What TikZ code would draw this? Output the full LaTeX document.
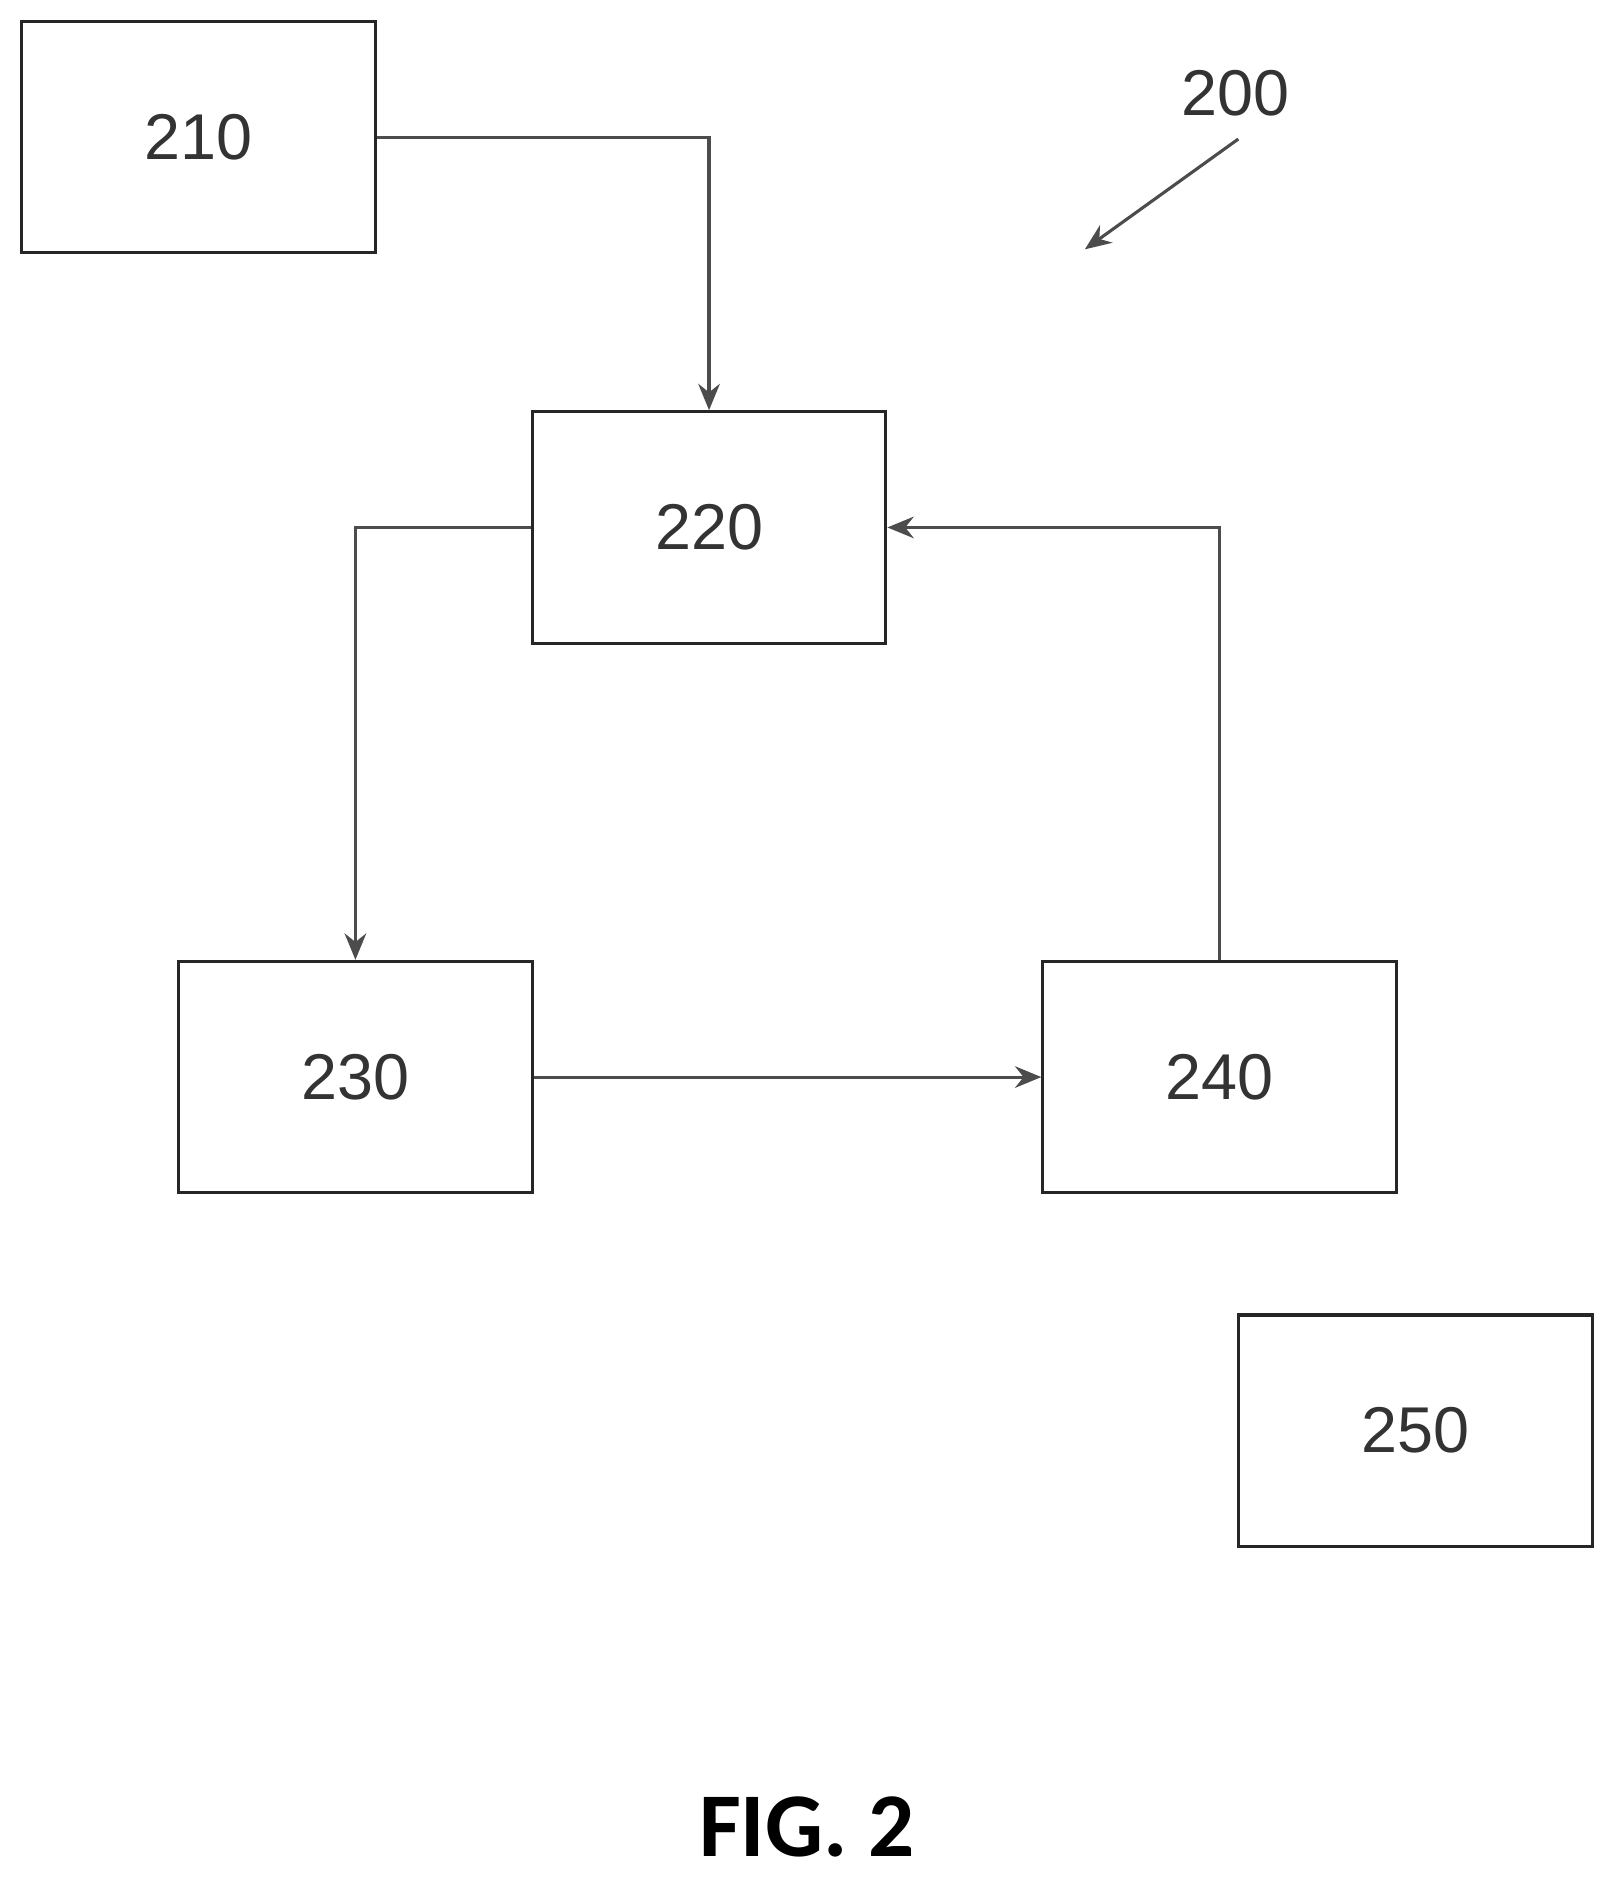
\documentclass[tikz,border=0pt]{standalone}
\usepackage{fontspec}
\setmainfont{Liberation Sans}
\newfontfamily\figfont{Carlito}
\usetikzlibrary{arrows.meta}
\begin{document}
\begin{tikzpicture}[x=1pt,y=-1pt,
  box/.style={draw=black!85,line width=2.6pt,minimum width=295pt,minimum height=193pt,inner sep=0pt,font=\fontsize{54}{60}\selectfont\color{black!80}},
  con/.style={draw=black!70,line width=2.6pt,-{Stealth[length=22pt,width=18pt]}}]
\useasboundingbox (0,0) rectangle (1350,1570);
\node[box] (b210) at (165.5,114.5) {210};
\node[box] (b220) at (591.5,440) {220};
\node[box] (b230) at (296.5,898.5) {230};
\node[box] (b240) at (1017.5,898.5) {240};
\node[box] (b250) at (1181,1193.5) {250};
\node[font=\fontsize{54}{60}\selectfont\color{black!80}] (l200) at (1031,78) {200};
\coordinate (a1) at (1033,116);
\coordinate (a2) at (905,208);
\draw[con] (a1) -- (a2);
\draw[con] (b210.east) -| (b220.north);
\draw[con] (b220.west) -| (b230.north);
\draw[con] (b230.east) -- (b240.west);
\draw[con] (b240.north) |- (b220.east);
\node[font=\figfont\bfseries\fontsize{76}{80}\selectfont] (fig) at (673,1524) {FIG. 2};
\end{tikzpicture}
\end{document}
